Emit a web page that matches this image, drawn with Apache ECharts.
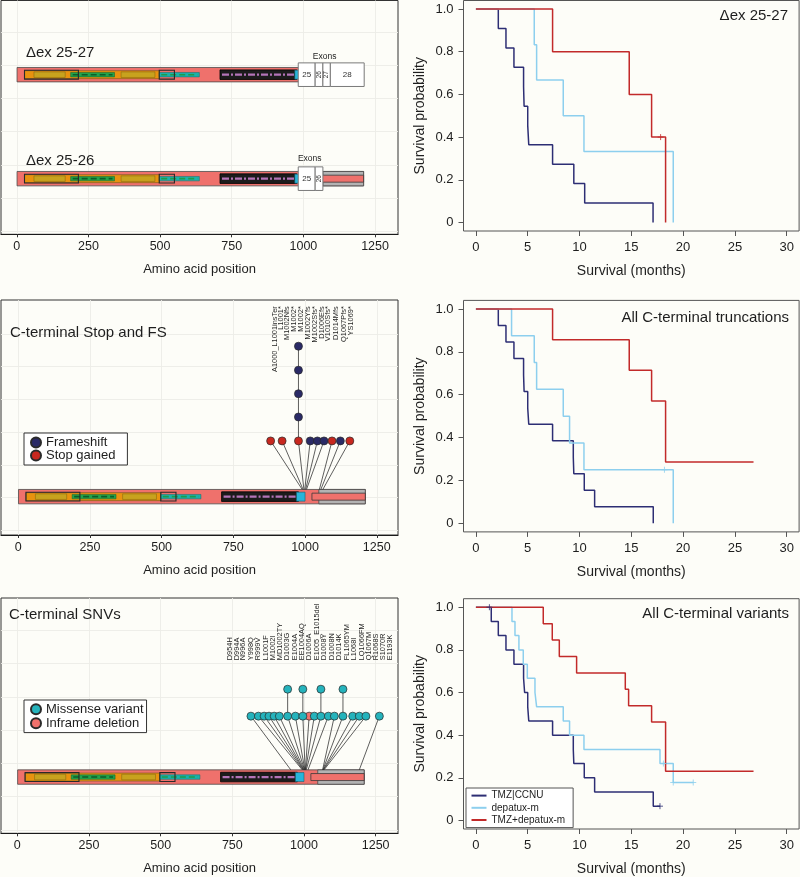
<!DOCTYPE html>
<html><head><meta charset="utf-8">
<script src="https://cdn.jsdelivr.net/npm/echarts@6/dist/echarts.min.js"></script>
<style>html,body{margin:0;padding:0;background:#fdfdf8}#c{width:800px;height:877px}</style>
</head><body><div id="c"></div>
<script>
// ---------------- data ----------------
const aaTicks = [0, 250, 500, 750, 1000, 1250];
const trackLines = [0, 1, 2, 3, 4, 5, 6];
const monthTicks = [0, 5, 10, 15, 20, 25, 30];
const probTicks = [0, 0.2, 0.4, 0.6, 0.8, 1];

// protein features [start aa, end aa, kind]
const proteinSpan = [1, 1210];
const domains = [[27,498,'band'],[60,169,'recepL'],[364,482,'recepL'],[188,341,'furin'],[497,637,'gf'],
                 [27,215,'outline'],[497,550,'outline'],[709,977,'kinase'],[970,1000,'tail']];
const ctermDel2526 = [[1068,1210,'gray'],[1024,1210,'stripe']];
const ctermFull = [[1048,1210,'gray'],[1024,1210,'stripe']];
const exonsDel2527 = [[982,1041,'25'],[1041,1068,'26'],[1068,1094,'27'],[1094,1212,'28']];
const exonsDel2526 = [[982,1041,'25'],[1041,1068,'26']];
const exonTitleX = [1074, 1022];

// track rows (value on the track axis)
const rowDel2527 = 4.72, rowDel2526 = 1.58, rowFS = 1.03, rowSNV = 1.59;
const exonTitleY = [5.26, 2.17];

// C-terminal stop / frameshift
const fsLabels = ['A1000_L1001insTer','L1001*','M1002Nfs','M1002*','M1002*','M1002Yfs','M1002Sfs*','D1006Efs','V1010Sfs*','D1014Mfs','Q1067Pfs*','YS1069*'];
const fsLabelX = [896,916,938,962,985,1011,1034,1059,1081,1107,1134,1159];
const fsLabelTop = 6.84;
const fsHeadX = [880,920,977,1018,1043,1066,1094,1123,1156];
const fsHeadType = ['Stop gained','Stop gained','Stop gained','Frameshift','Frameshift','Frameshift','Stop gained','Frameshift','Stop gained'];
const fsBaseX = [990,993,996,999,1002,1005,1050,1055,1062];
const fsHeadLevel = 2.73;
const fsStackX = [977,977,977,977];
const fsStackLevel = [3.46,4.17,4.89,5.62];

// C-terminal SNVs
const snvLabels = ['D954H','D994A','N996A','Y998Q','R999V','L1001F','M1002I','MD1002TY','D1003G','E1004A','EE1004AQ','D1006A','E1005_E1015del','D1008Y','D1008N','D1014K','FL1065YM','L1068I','LQ1066FM','Q1067M','R1068S','S1070R','E1193K'];
const snvLabelX = [742,765,788,814,838,866,891,916,942,967,993,1018,1044,1070,1097,1123,1149,1174,1201,1228,1251,1277,1300];
const snvLabelBottom = 5.1;
const snvHeadX = [815,841,861,878,896,914,943,970,996,1018,1036,1059,1085,1106,1136,1170,1193,1216,1263];
const snvHeadType = ['M','M','M','M','M','M','M','M','M','D','M','M','M','M','M','M','M','M','M'];
const snvBaseX = [954,994,996,998,999,1001,1002,1003,1004,1005,1006,1008,1014,1065,1066,1067,1068,1070,1193];
const snvHeadLevel = 3.42;
const snvStackX = [943,996,1059,1136];
const snvStackLevel = 4.23;

// Kaplan-Meier curves [months, survival]
const km1Tmz = [[0,1],[2.16,0.909],[2.9,0.818],[3.67,0.727],[4.6,0.636],[4.65,0.545],[5.0,0.455],[5.1,0.364],[7.4,0.273],[9.45,0.182],[10.5,0.091],[17.1,0]];
const km1Dep = [[0,1],[5.63,0.833],[5.86,0.667],[8.43,0.5],[10.43,0.333],[19.05,0]];
const km1Comb = [[0,1],[7.4,0.8],[14.8,0.6],[16.96,0.4],[18.31,0]];
const km1CombCens = [[17.83,0.4]];
const km2Tmz = [[0,1],[2.16,0.923],[2.9,0.846],[3.67,0.769],[4.6,0.692],[4.65,0.615],[5.0,0.538],[5.1,0.462],[7.4,0.385],[9.4,0.308],[9.45,0.231],[10.46,0.154],[11.46,0.077],[17.12,0]];
const km2Dep = [[0,1],[3.44,0.875],[5.63,0.75],[5.86,0.625],[8.43,0.5],[9.04,0.375],[10.43,0.25],[19.05,0]];
const km2DepCens = [[18.2,0.25]];
const km2Comb = [[0,1],[7.4,0.857],[14.8,0.714],[16.96,0.571],[18.31,0.286],[26.8,0.286]];
const km3Tmz = [[0,1],[1.48,0.933],[2.16,0.867],[2.9,0.8],[3.67,0.733],[4.6,0.667],[4.7,0.6],[5.0,0.533],[5.1,0.467],[7.4,0.4],[9.4,0.333],[9.45,0.267],[10.46,0.2],[11.46,0.133],[17.12,0.067],[17.77,0.067]];
const km3TmzCens = [[1.3,1],[17.77,0.067]];
const km3Dep = [[0,1],[3.48,0.933],[3.77,0.867],[4.15,0.8],[4.57,0.733],[4.96,0.667],[5.7,0.6],[5.86,0.533],[8.43,0.467],[9.04,0.4],[10.43,0.333],[17.77,0.267],[19.05,0.178],[20.98,0.178]];
const km3DepCens = [[18.1,0.267],[19.05,0.178],[20.98,0.178]];
const km3Comb = [[0,1],[6.5,0.923],[7.37,0.846],[8.05,0.769],[9.72,0.692],[14.42,0.615],[14.74,0.538],[16.96,0.462],[18.31,0.231],[26.8,0.231]];

// ---------------- styles ----------------
const FONT = "'Liberation Sans', Arial, sans-serif";
const TXT = '#1e1e1e';
const C_TMZ = '#2d2e74', C_DEP = '#8dcfee', C_COMB = '#c22a2a';
const C_FS = '#2a2a66', C_STOP = '#c8281f', C_MIS = '#25b3bc', C_DEL = '#f0716c';
const KIND = {
  bar:{h:14.4, fill:'#ef716c', stroke:'#4a4a4a', lw:0.8},
  gray:{h:14.4, fill:'#b3b3b3', stroke:'#4a4a4a', lw:0.8},
  stripe:{h:7, fill:'#ef716c', stroke:'#3a3a3a', lw:0.8},
  band:{h:8, fill:'#e8920f', stroke:'#6a5520', lw:0.6},
  recepL:{h:5.6, fill:'#c8a21e', stroke:'#7c6510', lw:0.5},
  furin:{h:4.4, fill:'#22a34a', stroke:'#145f2e', lw:0.5, dash:'#0c5e28', dw:1.6, pat:[6,3]},
  gf:{h:4.4, fill:'#1cb0aa', stroke:'#0f6f6a', lw:0.5, dash:'#1f9a4a', dw:1.6, pat:[6,3]},
  outline:{h:8.8, fill:'none', stroke:'#2a2a2a', lw:1.1},
  kinase:{h:9.6, fill:'#1c1c1c', stroke:'#000', lw:0.8, dash:'#b474b8', dw:2.2, pat:[7,2,2,2]},
  tail:{h:9, fill:'#27b5d9', stroke:'#1a5f70', lw:0.6},
  exon:{h:23.6, fill:'#ffffff', stroke:'#7a7a7a', lw:1}
};

function trackItems(row, cterm, exons) {
  const it = [[proteinSpan[0], proteinSpan[1], row, 'bar']];
  domains.forEach(d => it.push([d[0], d[1], row, d[2]]));
  cterm.forEach(d => it.push([d[0], d[1], row, d[2]]));
  exons.forEach(d => it.push([d[0], d[1], row, 'exon', d[2]]));
  return it;
}

function rectsSeries(gi, items) {
  return {type:'custom', xAxisIndex:gi, yAxisIndex:gi, clip:false, silent:true, z:2,
    data: items.map(d => [d[0], d[1], d[2]]),
    renderItem(params, api) {
      const it = items[params.dataIndex], k = KIND[it[3]];
      const a = api.coord([api.value(0), api.value(2)]), b = api.coord([api.value(1), api.value(2)]);
      const x = a[0], w = b[0] - a[0], y = a[1] - k.h / 2;
      const ch = [{type:'rect', shape:{x, y, width:w, height:k.h}, style:{fill:k.fill, stroke:k.stroke, lineWidth:k.lw}}];
      if (k.dash) ch.push({type:'line', shape:{x1:x + 2, y1:a[1], x2:x + w - 2, y2:a[1]}, style:{stroke:k.dash, lineWidth:k.dw, lineDash:k.pat}});
      if (it[4]) {
        const narrow = w < 12;
        ch.push({type:'text', x:x + w / 2, y:a[1], rotation: narrow ? Math.PI / 2 : 0,
          style:{text:it[4], x:0, y:0, align:'center', verticalAlign:'middle', fontSize: narrow ? 6.5 : 8, fontFamily:FONT, fill:'#333'}});
      }
      return {type:'group', children:ch};
    }};
}

function textSeries(gi, labels, xs, ys, align, size, rot) {
  return {type:'custom', xAxisIndex:gi, yAxisIndex:gi, clip:false, silent:true, z:6,
    data: xs.map((x, i) => [x, Array.isArray(ys) ? ys[i] : ys]),
    renderItem(params, api) {
      const p = api.coord([api.value(0), api.value(1)]);
      return {type:'text', x:p[0], y:p[1], rotation: rot ? Math.PI / 2 : 0,
        style:{text:labels[params.dataIndex], x:0, y:0, align, verticalAlign:'middle', fontSize:size, fontFamily:FONT, fill:TXT}};
    }};
}

// segments: [x1, y1, x2, y2, dropToBarTop(0/1)]
function segSeries(gi, segs, barH) {
  return {type:'custom', xAxisIndex:gi, yAxisIndex:gi, clip:false, silent:true, z:3,
    data: segs,
    renderItem(params, api) {
      const p1 = api.coord([api.value(0), api.value(1)]);
      const p2 = api.coord([api.value(2), api.value(3)]);
      if (api.value(4)) p2[1] -= barH / 2;
      return {type:'line', shape:{x1:p1[0], y1:p1[1], x2:p2[0], y2:p2[1]}, style:{stroke:'#2a2a2a', lineWidth:0.75}};
    }};
}

function heads(gi, name, data, color) {
  return {type:'scatter', name, xAxisIndex:gi, yAxisIndex:gi, data, symbol:'circle', symbolSize:8, z:5, clip:false, silent:true,
    itemStyle:{color, borderColor:'#2a2a2a', borderWidth:0.7, opacity:1}};
}

// ---------------- axes ----------------
function aaX(gi, min, max) {
  return {type:'value', gridIndex:gi, min, max,
    axisLine:{show:true, onZero:false, lineStyle:{color:'#1a1a1a', width:1.2}},
    axisTick:{show:true, customValues:aaTicks, length:3, lineStyle:{color:'#333'}},
    axisLabel:{customValues:aaTicks, fontSize:12.5, color:TXT, margin:6, fontFamily:FONT, formatter: v => String(v)},
    splitLine:{show:true, lineStyle:{color:'#ececE6', width:0.9}},
    name:'Amino acid position', nameLocation:'middle', nameGap:29,
    nameTextStyle:{fontSize:13, color:TXT, fontFamily:FONT}};
}
function trackY(gi, min, max) {
  return {type:'value', gridIndex:gi, min, max, axisLine:{show:false, onZero:false},
    axisTick:{show:false, customValues:trackLines}, axisLabel:{show:false, customValues:trackLines},
    splitLine:{show:true, lineStyle:{color:'#ececE6', width:0.9}}};
}
function kmX(gi) {
  return {type:'value', gridIndex:gi, min:-1.2, max:31.2, axisLine:{show:false, onZero:false},
    axisTick:{show:true, inside:false, customValues:monthTicks, length:5, lineStyle:{color:'#555'}},
    axisLabel:{customValues:monthTicks, fontSize:13, color:TXT, margin:10, fontFamily:FONT},
    splitLine:{show:false},
    name:'Survival (months)', nameLocation:'middle', nameGap:33, nameTextStyle:{fontSize:14, color:TXT, fontFamily:FONT}};
}
function kmY(gi) {
  return {type:'value', gridIndex:gi, min:-0.04, max:1.04, axisLine:{show:false, onZero:false},
    axisTick:{show:true, inside:false, customValues:probTicks, length:5, lineStyle:{color:'#555'}},
    axisLabel:{customValues:probTicks, fontSize:13, color:TXT, margin:10, fontFamily:FONT,
      formatter: v => (Math.abs(v) < 1e-9 ? '0' : Number(v).toFixed(1))},
    splitLine:{show:false},
    name:'Survival probability', nameLocation:'middle', nameGap:36, nameTextStyle:{fontSize:14, color:TXT, fontFamily:FONT}};
}
function kmLine(gi, name, data, color) {
  return {type:'line', name, xAxisIndex:gi, yAxisIndex:gi, data, step:'end', symbol:'none', showSymbol:false, silent:true,
    lineStyle:{color, width:1.5}, itemStyle:{color}, z:3};
}
function kmCens(gi, data, color) {
  return {type:'scatter', name:'cens', xAxisIndex:gi, yAxisIndex:gi, data, symbol:'path://M5,0L5,10M0,5L10,5', symbolSize:6, silent:true,
    itemStyle:{color:'none', borderColor:color, borderWidth:1}, z:4};
}

// ---------------- series ----------------
const series = [];
// panel L1
series.push(rectsSeries(0, trackItems(rowDel2527, [], exonsDel2527).concat(trackItems(rowDel2526, ctermDel2526, exonsDel2526))));
series.push(textSeries(0, ['Exons', 'Exons'], exonTitleX, exonTitleY, 'center', 8.5, false));
// panel L2
series.push(rectsSeries(1, trackItems(rowFS, ctermFull, [])));
const fsSegs = fsHeadX.map((x, i) => [x, fsHeadLevel, fsBaseX[i], rowFS, 1])
  .concat([[fsStackX[0], fsHeadLevel, fsStackX[0], fsStackLevel[fsStackLevel.length - 1], 0]]);
series.push(segSeries(1, fsSegs, KIND.bar.h));
series.push(heads(1, 'Frameshift', fsHeadX.map((x, i) => [x, fsHeadLevel, fsHeadType[i]]).filter(d => d[2] === 'Frameshift').map(d => [d[0], d[1]])
  .concat(fsStackX.map((x, i) => [x, fsStackLevel[i]])), C_FS));
series.push(heads(1, 'Stop gained', fsHeadX.map((x, i) => [x, fsHeadLevel, fsHeadType[i]]).filter(d => d[2] === 'Stop gained').map(d => [d[0], d[1]]), C_STOP));
series.push(textSeries(1, fsLabels, fsLabelX, fsLabelTop, 'right', 7.4, true));
// panel L3
series.push(rectsSeries(2, trackItems(rowSNV, ctermFull, [])));
const snvSegs = snvHeadX.map((x, i) => [x, snvHeadLevel, snvBaseX[i], rowSNV, 1])
  .concat(snvStackX.map(x => [x, snvHeadLevel, x, snvStackLevel, 0]));
series.push(segSeries(2, snvSegs, KIND.bar.h));
series.push(heads(2, 'Inframe deletion', snvHeadX.filter((x, i) => snvHeadType[i] === 'D').map(x => [x, snvHeadLevel]), C_DEL));
series.push(heads(2, 'Missense variant', snvHeadX.filter((x, i) => snvHeadType[i] === 'M').map(x => [x, snvHeadLevel])
  .concat(snvStackX.map(x => [x, snvStackLevel])), C_MIS));
series.push(textSeries(2, snvLabels, snvLabelX, snvLabelBottom, 'left', 7.4, true));
// KM panels
series.push(kmLine(3, 'TMZ|CCNU', km1Tmz, C_TMZ), kmLine(3, 'depatux-m', km1Dep, C_DEP), kmLine(3, 'TMZ+depatux-m', km1Comb, C_COMB), kmCens(3, km1CombCens, C_COMB));
series.push(kmLine(4, 'TMZ|CCNU', km2Tmz, C_TMZ), kmLine(4, 'depatux-m', km2Dep, C_DEP), kmLine(4, 'TMZ+depatux-m', km2Comb, C_COMB), kmCens(4, km2DepCens, C_DEP));
series.push(kmLine(5, 'TMZ|CCNU', km3Tmz, C_TMZ), kmLine(5, 'depatux-m', km3Dep, C_DEP), kmLine(5, 'TMZ+depatux-m', km3Comb, C_COMB),
  kmCens(5, km3TmzCens, C_TMZ), kmCens(5, km3DepCens, C_DEP));

const gridL = {show:true, borderColor:'#333', borderWidth:1, backgroundColor:'transparent'};
const gridK = {show:true, borderColor:'#555', borderWidth:1, backgroundColor:'transparent'};
const titleTS = {fontSize:15, fontWeight:'normal', color:TXT, fontFamily:FONT};

const option = {
  animation:false,
  backgroundColor:'#fdfdf8',
  textStyle:{fontFamily:FONT},
  title:[
    {text:'\u0394ex 25-27', left:26, top:45, padding:0, textStyle:titleTS},
    {text:'\u0394ex 25-26', left:26, top:153, padding:0, textStyle:titleTS},
    {text:'C-terminal Stop and FS', left:10, top:325, padding:0, textStyle:titleTS},
    {text:'C-terminal SNVs', left:9, top:607, padding:0, textStyle:titleTS},
    {text:'\u0394ex 25-27', right:12, top:8, padding:0, textStyle:titleTS},
    {text:'All C-terminal truncations', right:11, top:310, padding:0, textStyle:titleTS},
    {text:'All C-terminal variants', right:11, top:606, padding:0, textStyle:titleTS}
  ],
  legend:[
    {data:['Frameshift','Stop gained'], orient:'vertical', left:24, top:433, icon:'circle', itemWidth:10, itemHeight:10, itemGap:0,
     padding:[3,12,3,6], borderColor:'#333', borderWidth:1, backgroundColor:'#ffffff', selectedMode:false,
     textStyle:{fontSize:13, color:TXT, lineHeight:12.6, fontFamily:FONT}},
    {data:['Missense variant','Inframe deletion'], orient:'vertical', left:24, top:700, icon:'circle', itemWidth:10, itemHeight:10, itemGap:0,
     padding:[2.3,3,2.3,6], borderColor:'#333', borderWidth:1, backgroundColor:'#ffffff', selectedMode:false,
     textStyle:{fontSize:13, color:TXT, lineHeight:14, fontFamily:FONT}},
    {data:['TMZ|CCNU','depatux-m','TMZ+depatux-m'], orient:'vertical', left:466, top:788, icon:'rect', itemWidth:15, itemHeight:2, itemGap:0,
     padding:[1.5,8,1.5,5.5], borderColor:'#555', borderWidth:1, backgroundColor:'#ffffff', selectedMode:false,
     textStyle:{fontSize:10, color:TXT, lineHeight:12.2, fontFamily:FONT}}
  ],
  grid:[
    Object.assign({left:1, top:0.5, width:397, height:233.8}, gridL),
    Object.assign({left:1, top:300, width:397, height:235}, gridL),
    Object.assign({left:1, top:598, width:397, height:235.3}, gridL),
    Object.assign({left:463.5, top:0.5, width:335.6, height:230.5}, gridK),
    Object.assign({left:463.5, top:300.4, width:335.6, height:231.5}, gridK),
    Object.assign({left:463.5, top:598.7, width:335.6, height:230.6}, gridK)
  ],
  xAxis:[aaX(0, -55, 1330), aaX(1, -60, 1324), aaX(2, -57, 1328), kmX(3), kmX(4), kmX(5)],
  yAxis:[trackY(0, -0.1, 6.96), trackY(1, -0.14, 7.03), trackY(2, -0.1, 6.97), kmY(3), kmY(4), kmY(5)],
  series
};
const chart = echarts.init(document.getElementById('c'), null, {renderer:'canvas', width:800, height:877});
chart.setOption(option);
</script></body></html>
